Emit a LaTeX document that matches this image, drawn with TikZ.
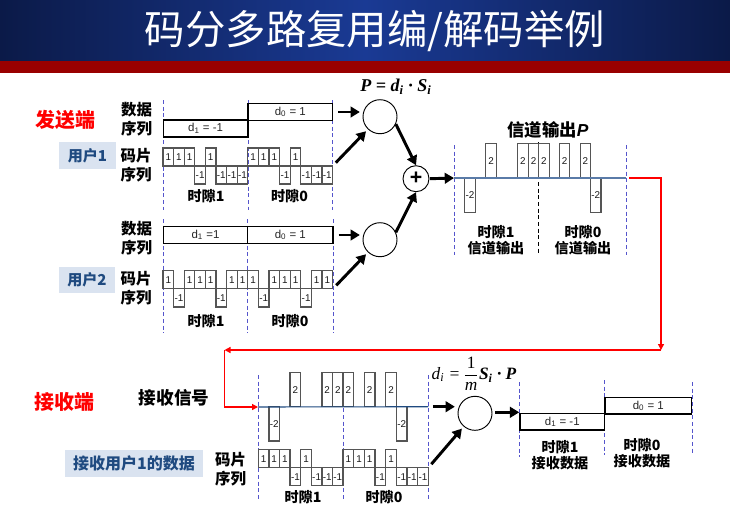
\documentclass[tikz,border=0pt]{standalone}
\usepackage{fontspec}
\usepackage{amsmath}
\setmainfont{Liberation Sans}
\newfontfamily\cjk{Noto Sans CJK SC}
\newfontfamily\serifmath{Liberation Serif}
\usetikzlibrary{arrows.meta,calc}
\definecolor{navyL}{HTML}{0B1A48}
\definecolor{navyR}{HTML}{1A3A94}
\definecolor{barred}{HTML}{990000}
\definecolor{tagfill}{HTML}{DAE3F0}
\definecolor{tagtext}{HTML}{1F4A80}
\definecolor{slotdash}{HTML}{5555CC}
\definecolor{chipline}{HTML}{555555}
\definecolor{baseblue}{HTML}{5A7BA8}
\tikzset{
  lab/.style={font=\cjk\bfseries\fontsize{11.6}{14.3}\selectfont,align=center,inner sep=0pt},
  slotlab/.style={font=\cjk\bfseries\fontsize{10.6}{12.2}\selectfont,align=center,inner sep=0pt},
  sidered/.style={font=\cjk\bfseries\fontsize{15}{18}\selectfont,text=red,inner sep=0pt},
  tag/.style={fill=tagfill,text=tagtext,font=\cjk\bfseries\fontsize{11.3}{13}\selectfont,inner sep=0pt},
  databar/.style={draw=black,line width=1.1pt,fill=white,inner sep=0pt,minimum height=12.6pt,
    font=\fontsize{8.6}{10}\selectfont,text=black!85},
  slotline/.style={draw=slotdash,line width=.7pt,dash pattern=on 3pt off 2pt},
  chipbox/.style={draw=chipline,line width=.95pt},
  chiptext/.style={font=\fontsize{7.4}{8}\selectfont,inner sep=0pt,text=black!90},
  mixer/.style={circle,draw=black,line width=.7pt,fill=white,minimum size=25.5pt,inner sep=0pt},
  fat/.style={line width=2.2pt,-{Triangle[length=7pt,width=8pt]},shorten <=3.5pt,shorten >=2pt},
  redlink/.style={draw=red,line width=1pt},
  redtip/.style={-{Triangle[length=4.5pt,width=4.5pt]}},
}
% Draws a chip waveform: start x, chip width, base y, pulse height, values, name prefix
\newcommand{\chipwave}[6]{%
  \foreach \v [count=\k from 0] in {#5} {%
    \pgfmathsetmacro\xa{#1+\k*#2}%
    \pgfmathsetmacro\xb{#1+(\k+1)*#2}%
    \ifnum\v>0
      \pgfmathsetmacro\yy{#3-#4}%
      \draw[chipbox] (\xa,#3) rectangle (\xb,\yy);
      \node[chiptext] (#6-\k) at ({(\xa+\xb)/2},{#3-#4/2}) {\v};
    \else\ifnum\v<0
      \pgfmathsetmacro\yy{#3+#4}%
      \draw[chipbox] (\xa,#3) rectangle (\xb,\yy);
      \node[chiptext] (#6-\k) at ({(\xa+\xb)/2},{#3+#4/2}) {\v};
    \fi\fi
  }%
}
\begin{document}
\begin{tikzpicture}[x=.75pt,y=-.75pt]
\useasboundingbox (0,0) rectangle (730,512);
\fill[white] (0,0) rectangle (730,512);
% Title band
\shade[left color=navyL,right color=navyL,middle color=navyR] (0,0) rectangle (730,61);
\fill[barred] (0,61) rectangle (730,73);
\node[text=white,font=\cjk\fontsize{30.3}{34}\selectfont,inner sep=0pt] (title) at (375,31) {码分多路复用编/解码举例};

% Side headings
\node[sidered] (tx) at (65,120) {发送端};
\node[sidered] (rx) at (64,402) {接收端};
\node[tag,minimum width=42.7pt,minimum height=20.2pt] (user1) at (87.5,155.5) {用户1};
\node[tag,minimum width=42.7pt,minimum height=20.2pt] (user2) at (87,280) {用户2};
\node[tag,minimum width=103.5pt,minimum height=20pt,font=\cjk\bfseries\fontsize{12}{14}\selectfont] (user1rx) at (134,463.5) {接收用户1的数据};

% Sender, user 1
\foreach \x in {163.3,248,332.7} \draw[slotline] (\x,100) -- (\x,210);
\node[lab] (u1dl) at (136.5,119.5) {数据\\序列};
\node[lab] (u1cl) at (136,165.5) {码片\\序列};
\node[databar,minimum width=63.5pt] (u1d1) at (205.6,128.5) {d\textsubscript{1} = -1\hspace{8pt}};
\node[databar,minimum width=63.5pt] (u1d0) at (290.3,112) {d\textsubscript{0} = 1};
\chipwave{163}{10.6}{166}{18}{1,1,1,-1,1,-1,-1,-1}{u1a}
\chipwave{247.8}{10.6}{166}{18}{1,1,1,-1,1,-1,-1,-1}{u1b}
\coordinate (u1end) at (332.6,166);
\node[slotlab] (u1s1) at (206,196) {时隙1};
\node[slotlab] (u1s0) at (289.5,196) {时隙0};

% Sender, user 2
\foreach \x in {163.3,247.7,333} \draw[slotline] (\x,219) -- (\x,333);
\node[lab] (u2dl) at (136.5,238.5) {数据\\序列};
\node[lab] (u2cl) at (136,288) {码片\\序列};
\node[databar,minimum width=63.3pt] (u2d1) at (205.5,235) {d\textsubscript{1} =1};
\node[databar,minimum width=64.2pt] (u2d0) at (290.3,235) {d\textsubscript{0} = 1};
\chipwave{163}{10.6}{288.7}{18.2}{1,-1,1,1,1,-1,1,1}{u2a}
\chipwave{247.8}{10.6}{288.7}{18.2}{1,-1,1,1,1,-1,1,1}{u2b}
\coordinate (u2end) at (333,288.7);
\node[slotlab] (u2s1) at (206,321) {时隙1};
\node[slotlab] (u2s0) at (290,321) {时隙0};

% Spreading stage and adder
\node[mixer] (m1) at (380,116.7) {};
\node[mixer] (m2) at (380,239.7) {};
\node[mixer,minimum size=19.5pt] (plus) at (416,178.7) {};
\node[font=\bfseries\fontsize{16}{16}\selectfont,inner sep=0pt] (plussign) at (plus) {+};
\node[font=\serifmath\bfseries\itshape\fontsize{13.5}{15}\selectfont,inner sep=0pt] (pform) at (396,87) {P = d\textsubscript{i} · S\textsubscript{i}};
\draw[fat] (u1d0.east) -- (m1.west |- u1d0.east);
\draw[fat] (u1end) -- (m1);
\draw[fat] (u2d0.east) -- (m2.west |- u2d0.east);
\draw[fat] (u2end) -- (m2);
\draw[fat,shorten <=0pt,shorten >=0pt] (m1.-25) -- (plus.north);
\draw[fat,shorten <=0pt,shorten >=0pt] (m2.25) -- (plus.south);

% Channel output
\foreach \x in {454,626} \draw[slotline] (\x,145) -- (\x,255);
\draw[black,line width=.6pt,dash pattern=on 3pt off 2pt] (538.8,142) -- (538.8,255);
\chipwave{454}{10.6}{178}{34.5}{0,-2,0,2,0,0,2,2}{pa}
\chipwave{538.8}{10.35}{178}{34.5}{2,0,2,0,2,-2,0,0}{pb}
\coordinate (pstart) at (454,178);
\coordinate (pend) at (626,178);
\draw[baseblue,line width=1pt] (pstart) -- (pend);
\draw[fat,shorten >=0pt,shorten <=0pt] (plus) ++(14,0) -- (pstart);
\node[font=\cjk\bfseries\fontsize{13}{15}\selectfont,inner sep=0pt] (ptitle) at (548,130) {信道输出{\fontspec{Liberation Sans}\itshape P}};
\node[slotlab] (ps1) at (496,240) {时隙1\\信道输出};
\node[slotlab] (ps0) at (583,240) {时隙0\\信道输出};

% Link from channel to receiver
\coordinate (c1) at (661,178);
\coordinate (c2) at (661,350);
\coordinate (c3) at (224.5,350);
\coordinate (c4) at (224.5,407);
\coordinate (rstart) at (258,407);
\draw[redlink,redtip,shorten <=2.2pt] (pend) -- (c1) -- (c2);
\draw[redlink,redtip] (c2) -- (c3);
\draw[redlink,redtip] (c3) -- (c4) -- (rstart);

% Receiver
\foreach \x in {258.3,343.3,428.3} \draw[slotline] (\x,375) -- (\x,500);
\node[lab,font=\cjk\bfseries\fontsize{13.2}{16}\selectfont] (rsig) at (174,398) {接收信号};
\node[lab] (rcl) at (230.7,469.5) {码片\\序列};
\chipwave{258.3}{10.6}{406.7}{34.3}{0,-2,0,2,0,0,2,2}{ra}
\chipwave{343.1}{10.65}{406.7}{34.3}{2,0,2,0,2,-2,0,0}{rb}
\coordinate (rend) at (428.3,406.7);
\draw[tagtext,line width=.8pt] (rstart) -- (rend);
\chipwave{258.3}{10.6}{467.7}{18}{1,1,1,-1,1,-1,-1,-1}{rca}
\chipwave{343.1}{10.65}{467.7}{18}{1,1,1,-1,1,-1,-1,-1}{rcb}
\coordinate (rcend) at (428.3,467.7);
\node[slotlab] (rs1) at (303,497) {时隙1};
\node[slotlab] (rs0) at (384,497) {时隙0};
\node[mixer] (mr) at (475,413.3) {};
\node[inner sep=0pt,font=\serifmath\fontsize{13}{15}\selectfont] (rform) at (474,373.5) {$\displaystyle \hbox{\itshape d\textsubscript{i} =\,}\frac{\hbox{1}}{\hbox{\itshape m}}\hbox{\bfseries\itshape S\textsubscript{i} · P}$};
\draw[fat] (rend) -- (mr.west |- rend);
\draw[fat] (rcend) -- (mr);
% Recovered data
\foreach \x/\ya/\yb in {519.5/382/457,604/380/455,692/382/455} \draw[slotline] (\x,\ya) -- (\x,\yb);
\node[databar,minimum width=63.5pt] (rd1) at (562.3,421.7) {d\textsubscript{1} = -1\hspace{8pt}};
\node[databar,minimum width=65pt] (rd0) at (648.3,405.7) {d\textsubscript{0} = 1};
\draw[fat,shorten <=0pt,shorten >=0pt] (mr.east |- 495,412.3) ++(3,0) -- (rd1.west |- 495,412.3);
\node[slotlab] (rd1s) at (560,455.5) {时隙1\\接收数据};
\node[slotlab] (rd0s) at (642,453.5) {时隙0\\接收数据};
\end{tikzpicture}
\end{document}
